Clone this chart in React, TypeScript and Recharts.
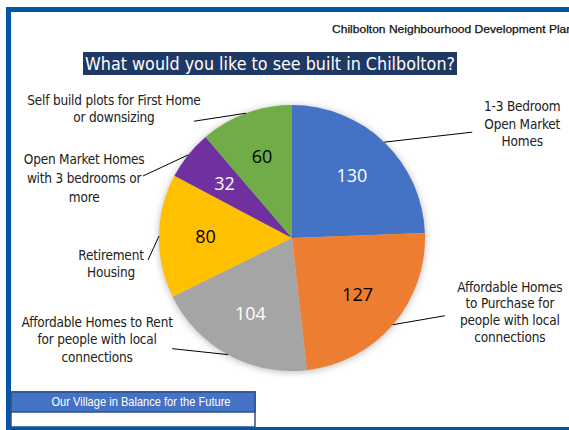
import React from 'react';
import { PieChart, Pie, Cell } from 'recharts';

const categories = [
  '1-3 Bedroom Open Market Homes',
  'Affordable Homes to Purchase for people with local connections',
  'Affordable Homes to Rent for people with local connections',
  'Retirement Housing',
  'Open Market Homes with 3 bedrooms or more',
  'Self build plots for First Home or downsizing',
];
const labelLines = [
  ['1-3 Bedroom', 'Open Market', 'Homes'],
  ['Affordable Homes', 'to Purchase for', 'people with local', 'connections'],
  ['Affordable Homes to Rent', 'for people with local', 'connections'],
  ['Retirement', 'Housing'],
  ['Open Market Homes', 'with 3 bedrooms or', 'more'],
  ['Self build plots for First Home', 'or downsizing'],
];
const values = [130, 127, 104, 80, 32, 60];
const colors = ['#4472C4', '#ED7D31', '#A5A5A5', '#FFC000', '#7030A0', '#70AD47'];
const valueColors = ['#FFFFFF', '#000000', '#FFFFFF', '#000000', '#FFFFFF', '#000000'];

const title = 'What would you like to see built in Chilbolton?';
const header = 'Chilbolton Neighbourhood Development Plan';
const footer = 'Our Village in Balance for the Future';

// callout layout: line end offset from slice edge, text offset from line end
const callouts = [
  { ex: 88, ey: -10, tx: 50, ty: -26, lh: 17.5 },
  { ex: 52, ey: -9, tx: 65, ty: -29, lh: 16.7 },
  { ex: -56, ey: -6, tx: -75, ty: -27, lh: 17.5 },
  { ex: -11, ey: 24, tx: -37, ty: -5, lh: 17 },
  { ex: -45, ey: 21, tx: -59, ty: -17, lh: 19 },
  { ex: -52, ey: 8, tx: -80, ty: -21, lh: 17 },
];

const W = 569;
const H = 430;
const CX = 292;
const CY = 238;
const R = 133;
const RAD = Math.PI / 180;

const rows = categories.map((name, i) => ({ name, value: values[i], idx: i }));

const renderLabel = (props: any) => {
  const { cx, cy, midAngle, outerRadius } = props;
  const i = props.payload?.idx ?? props.index;
  const cos = Math.cos(-midAngle * RAD);
  const sin = Math.sin(-midAngle * RAD);
  const vx = cx + outerRadius * 0.65 * cos;
  const vy = cy + outerRadius * 0.65 * sin;
  const sx = cx + outerRadius * cos;
  const sy = cy + outerRadius * sin;
  const c = callouts[i];
  const exx = sx + c.ex;
  const eyy = sy + c.ey;
  const tx = exx + c.tx;
  const ty = eyy + c.ty;
  return (
    <g key={'lab' + i}>
      <line x1={sx} y1={sy} x2={exx} y2={eyy} stroke="#000" strokeWidth={1} />
      <text
        x={vx}
        y={vy}
        textAnchor="middle"
        dy="0.36em"
        fill={valueColors[i]}
        fontFamily="'Open Sans', sans-serif"
        fontSize={18}
      >
        {values[i]}
      </text>
      <text
        textAnchor="middle"
        fill="#222222"
        fontFamily="'DejaVu Sans Condensed', 'DejaVu Sans', sans-serif"
        fontSize={13.5}
        letterSpacing={-0.2}
      >
        {labelLines[i].map((ln, k) => (
          <tspan key={k} x={tx} y={ty + k * c.lh} dy="0.36em">
            {ln}
          </tspan>
        ))}
      </text>
    </g>
  );
};

export default function App() {
  return (
    <div style={{ position: 'absolute', left: 0, top: 0, width: W, height: H, background: '#fff', overflow: 'hidden' }}>
      <svg width={W} height={H} style={{ position: 'absolute', left: 0, top: 0 }}>
        <defs>
          <filter id="pieShadow" x="-20%" y="-20%" width="140%" height="140%">
            <feGaussianBlur stdDeviation="3" />
          </filter>
        </defs>
        <rect x={6} y={7} width={W - 6} height={5} fill="#0055A5" />
        <rect x={6} y={7} width={5} height={H - 7} fill="#0055A5" />
        <rect x={6} y={427} width={W - 6} height={3} fill="#0055A5" />
        <text
          x={332}
          y={33}
          fontFamily="'Liberation Sans Narrow', 'Liberation Sans', Arial, sans-serif"
          fontSize={11}
          fill="#111111"
          stroke="#111111"
          strokeWidth={0.25}
          textLength={241}
          lengthAdjust="spacingAndGlyphs"
        >
          {header}
        </text>
        <rect x={83} y={52} width={374} height={23} fill="#1F3864" />
        <text
          x={85}
          y={70}
          fontFamily="'DejaVu Sans', Verdana, sans-serif"
          fontSize={18}
          fill="#FFFFFF"
          textLength={370}
          lengthAdjust="spacingAndGlyphs"
        >
          {title}
        </text>
        <circle cx={CX} cy={CY + 1} r={R + 1} fill="#c8c8c8" filter="url(#pieShadow)" />
        <rect x={11} y={392} width={244} height={35} fill="#FFFFFF" stroke="#2F4F8F" strokeWidth={1.5} />
        <rect x={11} y={392} width={244} height={20} fill="#4472C4" stroke="#2F4F8F" strokeWidth={1.5} />
        <text
          x={141}
          y={402}
          dy="0.36em"
          textAnchor="middle"
          fontFamily="'Liberation Sans', Arial, sans-serif"
          fontSize={12}
          fill="#FFFFFF"
          textLength={179}
          lengthAdjust="spacingAndGlyphs"
        >
          {footer}
        </text>
      </svg>
      <div style={{ position: 'absolute', left: 0, top: 0 }}>
        <PieChart width={W} height={H} margin={{ top: 0, right: 0, bottom: 0, left: 0 }}>
          <Pie
            data={rows}
            dataKey="value"
            nameKey="name"
            cx={CX}
            cy={CY}
            outerRadius={R}
            startAngle={90}
            endAngle={-270}
            stroke="none"
            label={renderLabel}
            labelLine={false}
            isAnimationActive={false}
          >
            {rows.map((r, i) => (
              <Cell key={r.name} fill={colors[i]} />
            ))}
          </Pie>
        </PieChart>
      </div>
    </div>
  );
}
